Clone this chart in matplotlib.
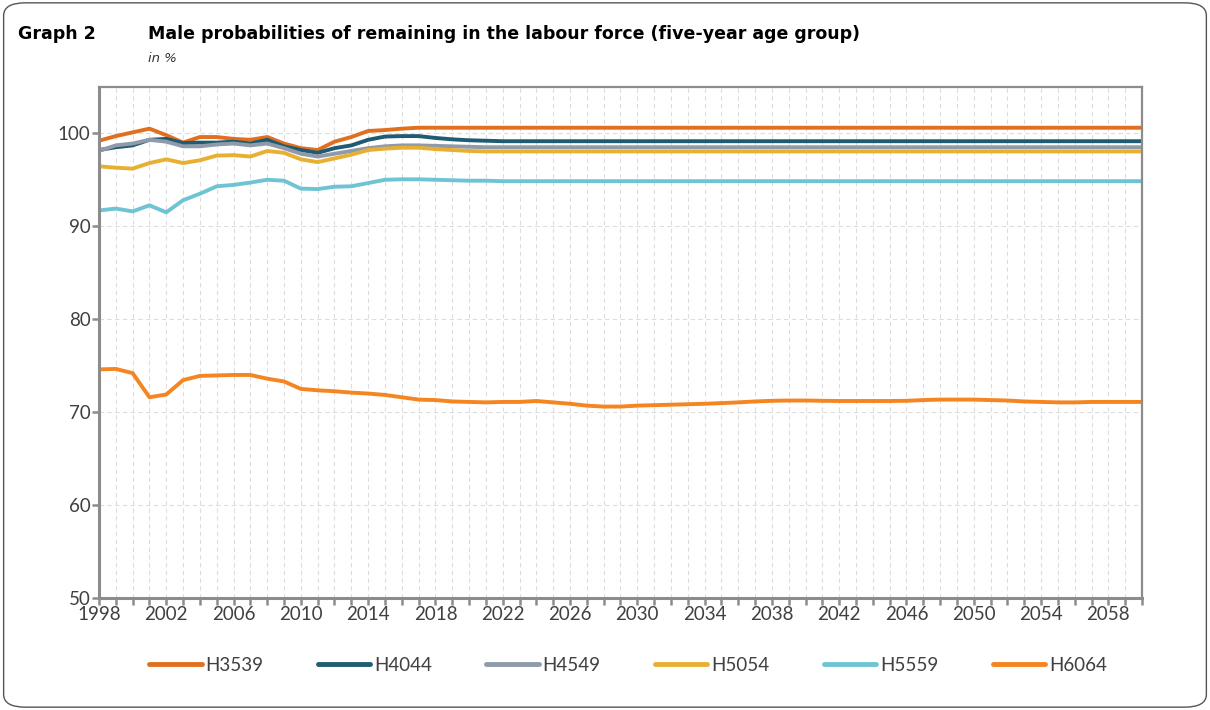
import matplotlib.pyplot as plt
from matplotlib.patches import FancyBboxPatch
from matplotlib.ticker import MultipleLocator

years = list(range(1998, 2061))

# 1998-2017 observed, 2018-2060 projected
h3539 = [99.2, 99.7, 100.1, 100.5, 99.8, 99.0, 99.6, 99.6, 99.4, 99.3,
         99.6, 98.9, 98.4, 98.2, 99.1, 99.6, 100.25, 100.35, 100.5, 100.6,
         100.6, 100.6, 100.6, 100.6, 100.6, 100.6, 100.6, 100.6, 100.6, 100.6,
         100.6, 100.6, 100.6, 100.6, 100.6, 100.6, 100.6, 100.6, 100.6, 100.6,
         100.6, 100.6, 100.6, 100.6, 100.6, 100.6, 100.6, 100.6, 100.6, 100.6,
         100.6, 100.6, 100.6, 100.6, 100.6, 100.6, 100.6, 100.6, 100.6, 100.6,
         100.6, 100.6, 100.6]
h4044 = [98.2, 98.5, 98.7, 99.3, 99.4, 98.95, 99.0, 99.0, 99.1, 98.9,
         99.3, 98.6, 98.2, 97.9, 98.4, 98.7, 99.3, 99.65, 99.7, 99.7,
         99.5, 99.35, 99.25, 99.2, 99.15, 99.15, 99.15, 99.15, 99.15, 99.15,
         99.15, 99.15, 99.15, 99.15, 99.15, 99.15, 99.15, 99.15, 99.15, 99.15,
         99.15, 99.15, 99.15, 99.15, 99.15, 99.15, 99.15, 99.15, 99.15, 99.15,
         99.15, 99.15, 99.15, 99.15, 99.15, 99.15, 99.15, 99.15, 99.15, 99.15,
         99.15, 99.15, 99.15]
h4549 = [98.1, 98.7, 98.9, 99.3, 99.1, 98.6, 98.6, 98.8, 98.9, 98.7,
         98.9, 98.4, 97.8, 97.5, 97.8, 98.1, 98.4, 98.6, 98.7, 98.7,
         98.65, 98.6, 98.55, 98.5, 98.5, 98.5, 98.5, 98.5, 98.5, 98.5,
         98.5, 98.5, 98.5, 98.5, 98.5, 98.5, 98.5, 98.5, 98.5, 98.5,
         98.5, 98.5, 98.5, 98.5, 98.5, 98.5, 98.5, 98.5, 98.5, 98.5,
         98.5, 98.5, 98.5, 98.5, 98.5, 98.5, 98.5, 98.5, 98.5, 98.5,
         98.5, 98.5, 98.5]
h5054 = [96.45, 96.3, 96.2, 96.8, 97.2, 96.8, 97.1, 97.6, 97.65, 97.5,
         98.1, 97.9, 97.2, 96.9, 97.3, 97.7, 98.2, 98.35, 98.45, 98.45,
         98.3, 98.2, 98.1, 98.05, 98.05, 98.05, 98.05, 98.05, 98.05, 98.05,
         98.05, 98.05, 98.05, 98.05, 98.05, 98.05, 98.05, 98.05, 98.05, 98.05,
         98.05, 98.05, 98.05, 98.05, 98.05, 98.05, 98.05, 98.05, 98.05, 98.05,
         98.05, 98.05, 98.05, 98.05, 98.05, 98.05, 98.05, 98.05, 98.05, 98.05,
         98.05, 98.05, 98.05]
h5559 = [91.7, 91.9, 91.6, 92.25, 91.5, 92.8, 93.5, 94.3, 94.45, 94.7,
         95.0, 94.9, 94.05, 94.0, 94.25, 94.3, 94.65, 95.0, 95.05, 95.05,
         95.0, 94.95, 94.9, 94.9, 94.85, 94.85, 94.85, 94.85, 94.85, 94.85,
         94.85, 94.85, 94.85, 94.85, 94.85, 94.85, 94.85, 94.85, 94.85, 94.85,
         94.85, 94.85, 94.85, 94.85, 94.85, 94.85, 94.85, 94.85, 94.85, 94.85,
         94.85, 94.85, 94.85, 94.85, 94.85, 94.85, 94.85, 94.85, 94.85, 94.85,
         94.85, 94.85, 94.85]
h6064 = [74.6, 74.65, 74.2, 71.6, 71.9, 73.45, 73.9, 73.95, 74.0, 74.0,
         73.6, 73.3, 72.5, 72.35, 72.25, 72.1, 72.0, 71.85, 71.6, 71.35,
         71.3, 71.15, 71.1, 71.05, 71.1, 71.1, 71.2, 71.05, 70.9, 70.7,
         70.6, 70.6, 70.7, 70.75, 70.8, 70.85, 70.9, 70.97, 71.05, 71.15,
         71.22, 71.25, 71.25, 71.22, 71.2, 71.2, 71.2, 71.2, 71.22, 71.3,
         71.35, 71.35, 71.35, 71.3, 71.25, 71.15, 71.1, 71.05, 71.05, 71.1,
         71.1, 71.1, 71.1]

series_names = ["H3539", "H4044", "H4549", "H5054", "H5559", "H6064"]
series_values = [h3539, h4044, h4549, h5054, h5559, h6064]
colors = ["#E07020", "#1F5B72", "#8F9AAA", "#E8B032", "#6FC4D4", "#F58520"]
year_labels = list(range(1998, 2061, 4))

txt = "#404040"
axis_gray = "#8C8C8C"

fig = plt.figure(figsize=(12.1, 7.1), dpi=100)
fig.patches.append(FancyBboxPatch((0.003, 0.004), 0.994, 0.992,
                                  boxstyle="round,pad=0,rounding_size=0.018",
                                  transform=fig.transFigure, facecolor="white",
                                  edgecolor="#555555", linewidth=1.0, zorder=-1))

fig.text(0.015, 0.952, "Graph 2", fontsize=12.5, fontweight="bold",
         family="DejaVu Sans", color="black", va="center")
fig.text(0.122, 0.952, "Male probabilities of remaining in the labour force (five-year age group)",
         fontsize=12.5, fontweight="bold", family="DejaVu Sans", color="black", va="center")
fig.text(0.122, 0.918, "in %", fontsize=9.5, style="italic", family="DejaVu Sans",
         color="#333333", va="center")

ax = fig.add_axes([0.0818, 0.1577, 0.862, 0.72])

for name, vals, c in zip(series_names, series_values, colors):
    ax.plot(years, vals, color=c, lw=2.8, label=name, solid_capstyle="butt")

ax.set_xlim(1998, 2060)
ax.set_ylim(50, 105)
ax.set_xticks(year_labels)
ax.xaxis.set_minor_locator(MultipleLocator(1))
ax.set_yticks([50, 60, 70, 80, 90, 100])

ax.grid(which="both", axis="x", color="#DDDDDD", ls=(0, (4, 3)), lw=0.8)
ax.grid(which="major", axis="y", color="#DDDDDD", ls=(0, (4, 3)), lw=0.8)
ax.set_axisbelow(True)

for side in ["left", "bottom"]:
    ax.spines[side].set_color(axis_gray)
    ax.spines[side].set_linewidth(2.2)
for side in ["top", "right"]:
    ax.spines[side].set_color(axis_gray)
    ax.spines[side].set_linewidth(1.6)

ax.tick_params(axis="both", which="both", direction="out", length=5, width=1.8,
               color=axis_gray, labelcolor=txt, labelsize=13.5, pad=1)
for lab in ax.get_xticklabels() + ax.get_yticklabels():
    lab.set_family("Lato")

leg = fig.legend(loc="center", bbox_to_anchor=(0.519, 0.063), ncol=6, frameon=False,
                 handlelength=2.8, handletextpad=0.2, columnspacing=2.9,
                 prop={"family": "Lato", "size": 13.5})
for t in leg.get_texts():
    t.set_color(txt)
for h in leg.legend_handles:
    h.set_linewidth(3.5)
    h.set_solid_capstyle("round")

fig.savefig("out.png", dpi=100)
